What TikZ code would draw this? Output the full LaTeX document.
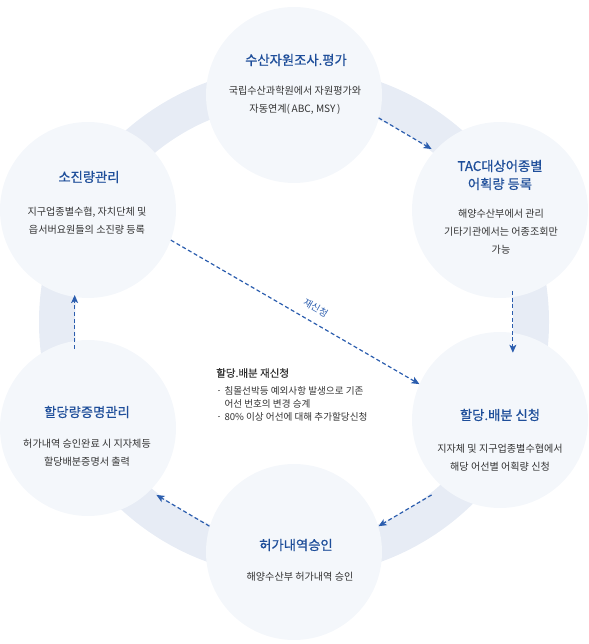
\documentclass[tikz,border=0pt]{standalone}
\usepackage{fontspec}
\setmainfont{Noto Sans CJK KR}
\newfontfamily\headfont[FakeBold=0.7]{Noto Sans CJK KR}
\newfontfamily\memofont[FakeBold=0.35]{Noto Sans CJK KR}
\usetikzlibrary{arrows.meta,calc}
\definecolor{ringgray}{HTML}{E7ECF5}
\definecolor{discfill}{HTML}{F4F7FB}
\definecolor{titleblue}{HTML}{1E4E9A}
\definecolor{bodygray}{HTML}{333333}
\definecolor{flowblue}{HTML}{2B5DAE}
\tikzset{
    disc/.style={circle, fill=discfill, minimum size=176pt, inner sep=0pt},
    ttl/.style={font=\headfont\fontsize{13.3}{18}\selectfont, text=titleblue, align=center},
    txt/.style={font=\fontsize{10.1}{18}\selectfont, text=bodygray, align=center},
    memo/.style={font=\fontsize{9.6}{13}\selectfont, text=bodygray, inner sep=0pt},
    flow/.style={flowblue, line width=1.2pt, dash pattern=on 4pt off 2.6pt,
        -{Stealth[length=8pt,width=7pt,inset=2pt]}}
}
\newcommand{\memodot}{\textcolor{gray}{\rule[2.8pt]{1.8pt}{1.8pt}}}

\begin{document}
\begin{tikzpicture}[x=1pt,y=1pt]

\useasboundingbox (0,0) rectangle (588,644);

\def\rOut{255}
\def\rIn{219}
\def\rFlow{221}

% ring behind the discs
\coordinate (hub) at (294,322);
\fill[ringgray, even odd rule] (hub) circle (\rOut pt) (hub) circle (\rIn pt);

% discs
\node[disc] (survey)    at (294,549) {};
\node[disc] (tac)       at (500,434) {};
\node[disc] (depletion) at (88,434)  {};
\node[disc] (apply)     at (500,224) {};
\node[disc] (certify)   at (88,216)  {};
\node[disc] (permit)    at (294,92)  {};

% titles and notes
\node[ttl] (surveyttl) at (296,584) {수산자원조사.평가};
\node[txt] (surveytxt) at (295,544) {국립수산과학원에서 자원평가와\\자동연계(\,ABC, MSY\,)};

\node[ttl] (tacttl) at (500,469) {TAC대상어종별\\어획량 등록};
\node[txt] (tactxt) at (501,412) {해양수산부에서 관리\\기타기관에서는 어종조회만\\가능};

\node[ttl] (depletionttl) at (89,467)   {소진량관리};
\node[txt] (depletiontxt) at (87,423.5) {지구업종별수협, 자치단체 및\\읍서버요원들의 소진량 등록};

\node[ttl] (applyttl) at (500,229) {할당.배분 신청};
\node[txt] (applytxt) at (500,186) {지자체 및 지구업종별수협에서\\해당 어선별 어획량 신청};

\node[ttl] (certifyttl) at (87,232)   {할당량증명관리};
\node[txt] (certifytxt) at (87,191.5) {허가내역 승인완료 시 지자체등\\할당배분증명서 출력};

\node[ttl] (permitttl) at (296,99) {허가내역승인};
\node[txt] (permittxt) at (300,67) {해양수산부 허가내역 승인};

% flow ends on the ring
\foreach \nm/\ang in {s1/67.5, s2/51.5, t1/8, t2/-8, a1/-51.5, a2/-67.5,
                      p1/-112.5, p2/-128.5, c1/187, c2/173} {
  \coordinate (\nm) at ($(hub)+(\ang:\rFlow pt)$);
}

\draw[flow] (s1) -- (s2);
\draw[flow] (t1) -- (t2);
\draw[flow] (a1) -- (a2);
\draw[flow] (p1) -- (p2);
\draw[flow] (c1) -- (c2);

% re-application
\draw[flow] (depletion.-20) -- (apply.156)
  node[pos=0.555, sloped, above=9pt, font=\fontsize{9.5}{11}\selectfont, text=flowblue, inner sep=0pt] (again) {재신청};

% memo in the middle
\node[memo, anchor=west, font=\memofont\fontsize{10.5}{13}\selectfont] (memohead) at (216,271) {할당.배분 재신청};
\node[memo, anchor=north west] (memolist) at (218,259) {%
  \begin{tabular}{@{}l@{\hspace{4.5pt}}l@{}}
  \memodot & 침몰선박등 예외사항 발생으로 기존\\
           & 어선 번호의 변경 승계\\
  \memodot & 80\% 이상 어선에 대해 추가할당신청
  \end{tabular}};

\end{tikzpicture}
\end{document}
